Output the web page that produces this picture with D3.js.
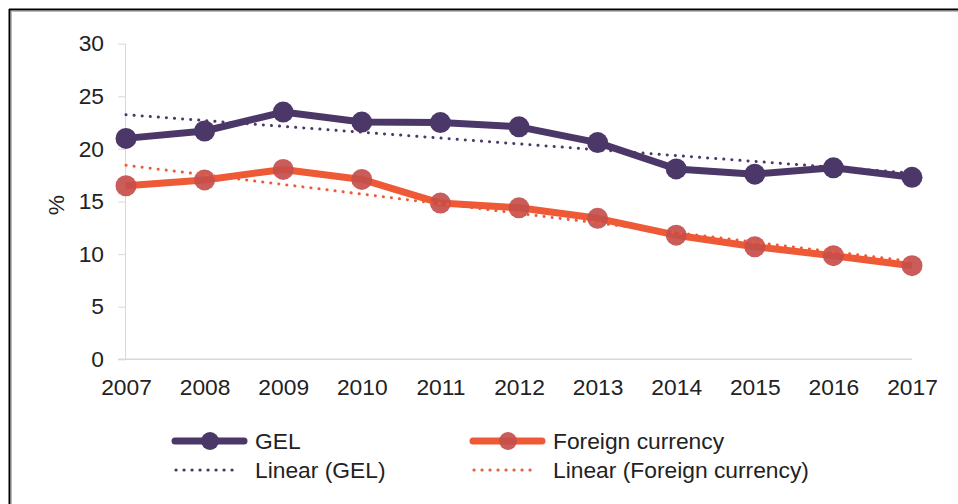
<!DOCTYPE html>
<html>
<head>
<meta charset="utf-8">
<script src="https://cdn.jsdelivr.net/npm/d3@7"></script>
<style>
  body { margin: 0; background: #fff; }
  svg { display: block; font-family: "Liberation Sans", Arial, sans-serif; }
</style>
</head>
<body>
<svg id="chart" width="958" height="504"></svg>
<script>
const years = ["2007","2008","2009","2010","2011","2012","2013","2014","2015","2016","2017"];
const gel = [21.0, 21.7, 23.5, 22.55, 22.5, 22.1, 20.6, 18.1, 17.6, 18.2, 17.3];
const foreign = [16.5, 17.05, 18.05, 17.1, 14.85, 14.4, 13.4, 11.8, 10.7, 9.85, 8.9];
const gelTrend = [23.25, 17.7];      // Linear (GEL) at first / last year
const foreignTrend = [18.45, 9.3];   // Linear (Foreign currency) at first / last year
const yTicks = [0, 5, 10, 15, 20, 25, 30];
const seriesNames = ["GEL", "Foreign currency", "Linear (GEL)", "Linear (Foreign currency)"];

const purple = "#4b3869";
const orange = "#ef5a36";
const orangeMarker = "#c64e4b";
const textColor = "#222";
const fontFam = "'Liberation Sans', Arial, sans-serif";
const fs = "22.8px";

const svg = d3.select("#chart");

// frame
svg.append("line").attr("x1", 9.5).attr("x2", 9.5).attr("y1", 9).attr("y2", 504)
  .attr("stroke", "#000").attr("stroke-width", 2);
svg.append("line").attr("x1", 9).attr("x2", 958).attr("y1", 9.5).attr("y2", 9.5)
  .attr("stroke", "#000").attr("stroke-width", 2);
svg.append("line").attr("x1", 11.5).attr("x2", 11.5).attr("y1", 11).attr("y2", 504)
  .attr("stroke", "#bbb").attr("stroke-width", 1);
svg.append("line").attr("x1", 11).attr("x2", 958).attr("y1", 11.5).attr("y2", 11.5)
  .attr("stroke", "#bbb").attr("stroke-width", 1);

const x = d3.scalePoint().domain(years).range([126, 912]);
const y = d3.scaleLinear().domain([0, 30]).range([359.3, 43.7]);

// y axis
const yAxis = svg.append("g").attr("transform", "translate(126,0)")
  .call(d3.axisLeft(y).tickValues(yTicks).tickSize(8).tickPadding(14));
yAxis.select(".domain").attr("stroke", "#d9d9d9").attr("d", `M-0.5,${y(30)}V${y(0)}`);
yAxis.selectAll(".tick line").attr("stroke", "#d9d9d9");
yAxis.selectAll(".tick text").attr("fill", textColor).style("font-size", fs)
  .style("font-family", fontFam);

// baseline
svg.append("line").attr("x1", 118).attr("x2", 912).attr("y1", y(0)).attr("y2", y(0))
  .attr("stroke", "#d9d9d9").attr("stroke-width", 1.5);

// x axis labels
const xAxis = svg.append("g").attr("transform", `translate(0,${y(0)})`)
  .call(d3.axisBottom(x).tickSize(0).tickPadding(20));
xAxis.select(".domain").remove();
xAxis.selectAll(".tick text").attr("fill", textColor).style("font-size", fs)
  .style("font-family", fontFam);

// y title
svg.append("text").attr("transform", "translate(64,205) rotate(-90)")
  .attr("text-anchor", "middle").attr("fill", textColor).style("font-size", fs).text("%");

const line = d3.line().x((d, i) => x(years[i])).y(d => y(d));

// series
function drawSeries(vals, color, mColor, mOpacity) {
  svg.append("path").datum(vals).attr("d", line).attr("fill", "none")
    .attr("stroke", color).attr("stroke-width", 7).attr("stroke-linejoin", "round");
  svg.append("g").selectAll("circle").data(vals).join("circle")
    .attr("cx", (d, i) => x(years[i])).attr("cy", d => y(d)).attr("r", 10.5)
    .attr("fill", mColor).attr("fill-opacity", mOpacity);
}
drawSeries(gel, purple, purple, 1);
drawSeries(foreign, orange, orangeMarker, 0.92);

// trend lines
function drawTrend(t, color) {
  svg.append("line")
    .attr("x1", x(years[0])).attr("y1", y(t[0]))
    .attr("x2", x(years[years.length - 1])).attr("y2", y(t[1]))
    .attr("stroke", color).attr("stroke-width", 3).attr("stroke-linecap", "round")
    .attr("stroke-dasharray", "0.1 8");
}
drawTrend(gelTrend, purple);
drawTrend(foreignTrend, orange);

// legend
const lg = svg.append("g").style("font-size", fs).style("font-family", fontFam)
  .attr("fill", textColor);
function legendSeries(x0, yy, color, mColor, mOpacity, label) {
  lg.append("line").attr("x1", x0 + 3).attr("x2", x0 + 72).attr("y1", yy).attr("y2", yy)
    .attr("stroke", color).attr("stroke-width", 7).attr("stroke-linecap", "round");
  lg.append("circle").attr("cx", x0 + 38).attr("cy", yy).attr("r", 9)
    .attr("fill", mColor).attr("fill-opacity", mOpacity);
  lg.append("text").attr("x", x0 + 83).attr("y", yy + 8).text(label);
}
function legendTrend(x0, yy, color, label) {
  lg.append("line").attr("x1", x0 + 4).attr("x2", x0 + 68).attr("y1", yy).attr("y2", yy)
    .attr("stroke", color).attr("stroke-width", 3.2).attr("stroke-linecap", "round")
    .attr("stroke-dasharray", "0.1 7.9");
  lg.append("text").attr("x", x0 + 83).attr("y", yy + 8).text(label);
}
legendSeries(172, 441, purple, purple, 1, seriesNames[0]);
legendSeries(470, 441, orange, orangeMarker, 0.92, seriesNames[1]);
legendTrend(172, 470, purple, seriesNames[2]);
legendTrend(470, 470, orange, seriesNames[3]);
</script>
</body>
</html>
